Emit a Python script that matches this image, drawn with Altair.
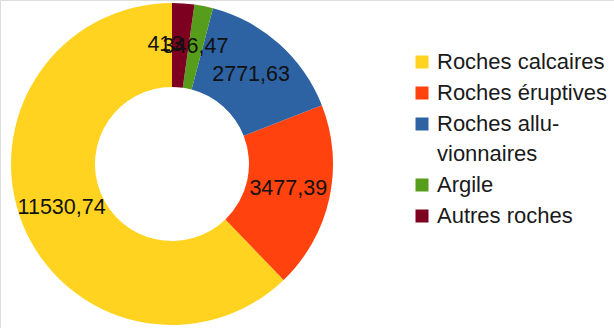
import altair as alt
import pandas as pd

categories = ["Roches calcaires", "Roches éruptives", "Roches alluvionnaires", "Argile", "Autres roches"]
values = [11530.74, 3477.39, 2771.63, 346.47, 413]
# clockwise position starting at 12 o'clock
clockwise_rank = [5, 4, 3, 2, 1]
colors = ["#ffd320", "#ff420e", "#2d62a3", "#579d1c", "#7e0021"]

df = pd.DataFrame({"categorie": categories, "valeur": values, "rang": clockwise_rank})

base = alt.Chart(df).transform_calculate(
    etiquette="replace(format(datum.valeur, '.2~f'), '.', ',')"
).transform_calculate(
    etiq_a="datum.categorie == 'Autres roches' ? '' : datum.etiquette",
    etiq_b="datum.categorie == 'Autres roches' ? datum.etiquette : ''",
).encode(
    theta=alt.Theta("valeur:Q", stack=True),
    order=alt.Order("rang:Q", sort="ascending"),
)

arcs = base.mark_arc(outerRadius=161, innerRadius=77, stroke=None).encode(
    x=alt.value(172),
    y=alt.value(164),
    color=alt.Color(
        "categorie:N",
        scale=alt.Scale(domain=categories, range=colors),
        legend=alt.Legend(
            title=None,
            orient="none",
            legendX=411,
            legendY=51,
            padding=0,
            symbolType="square",
            symbolSize=169,
            symbolStrokeWidth=0,
            symbolOpacity=1,
            labelFont="Liberation Sans",
            labelFontSize=22,
            labelColor="#1a1a1a",
            labelOffset=4,
            labelLimit=0,
            rowPadding=9,
            labelExpr="datum.label == 'Roches alluvionnaires' ? ['Roches allu-', 'vionnaires'] : datum.label",
        ),
    ),
)

text_style = dict(radius=119, font="Liberation Sans", fontSize=21.5, color="#111111", baseline="middle")

labels = base.mark_text(**text_style).encode(
    x=alt.value(172),
    y=alt.value(164),
    detail="categorie:N",
    text="etiq_a:N",
)

labels_small = base.mark_text(dx=-15, **text_style).encode(
    x=alt.value(172),
    y=alt.value(164),
    detail="categorie:N",
    text="etiq_b:N",
)

chart = (
    alt.layer(arcs, labels, labels_small)
    .properties(width=614, height=328, autosize=alt.AutoSizeParams(type="none"), padding=0)
    .configure_view(stroke=None)
    .configure(style={"guide-label": {"lineHeight": 30}})
)

chart.save("out.html", embed_options={"renderer": "svg", "actions": False})
